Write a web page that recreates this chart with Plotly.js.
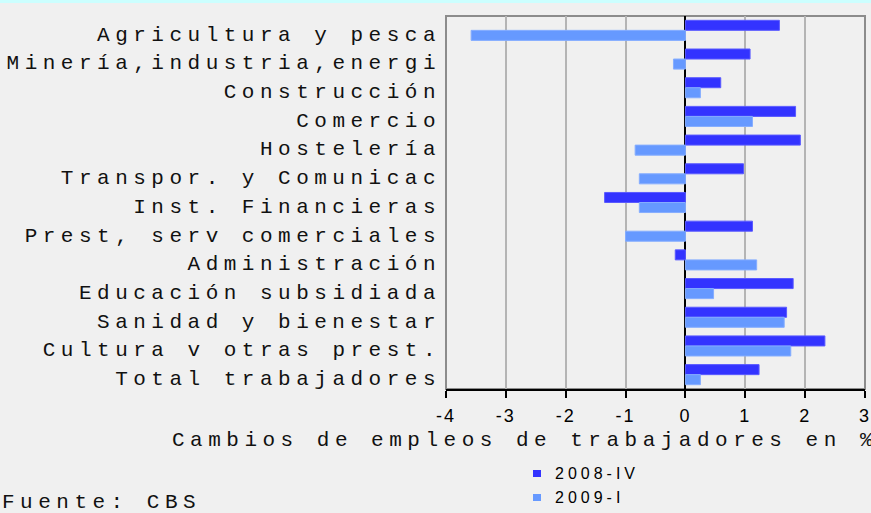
<!DOCTYPE html>
<html>
<head>
<meta charset="utf-8">
<script src="https://cdn.plot.ly/plotly-3.0.1.min.js"></script>
<style>
html,body{margin:0;padding:0;background:#f0f0f0;}
#chart{width:871px;height:513px;}
.ytick text {letter-spacing:5.5px;}
.xtick text {letter-spacing:2px;}
</style>
</head>
<body>
<div id="chart"></div>
<script>
var categories = [
  "Agricultura y pesca",
  "Minería,industria,energi",
  "Construcción",
  "Comercio",
  "Hostelería",
  "Transpor. y Comunicac",
  "Inst. Financieras",
  "Prest, serv comerciales",
  "Administración",
  "Educación subsidiada",
  "Sanidad y bienestar",
  "Cultura v otras prest.",
  "Total trabajadores"
];
var seriesNames = ["2008-IV", "2009-I"];
var seriesColors = ["#3333ff", "#6699ff"];
var values2008IV = [1.57, 1.08, 0.59, 1.84, 1.92, 0.97, -1.35, 1.12, -0.17, 1.80, 1.69, 2.33, 1.23];
var values2009I  = [-3.58, -0.20, 0.25, 1.12, -0.84, -0.77, -0.77, -1.00, 1.19, 0.47, 1.65, 1.76, 0.25];
var xTicks = [-4, -3, -2, -1, 0, 1, 2, 3];
var xTitle = "Cambios de empleos de trabajadores en %";
var sourceText = "Fuente: CBS";

var mono = "Liberation Mono, Courier New, monospace";
var sans = "Liberation Sans, Arial, sans-serif";

var W = 871, H = 513, ML = 446, MR = 6, MT = 16, MB = 124;
var PW = W - ML - MR, PH = H - MT - MB;
function px(x){ return (x - ML) / PW; }
function py(y){ return (H - MB - y) / PH; }

var traces = [
  {type:"bar", orientation:"h", name:seriesNames[0], y:categories, x:values2008IV,
   marker:{color:seriesColors[0], line:{color:"#5a5aff", width:1}}},
  {type:"bar", orientation:"h", name:seriesNames[1], y:categories, x:values2009I,
   marker:{color:seriesColors[1], line:{color:"#85adff", width:1}}}
];

var shapes = [
  {type:"rect", xref:"paper", yref:"paper", x0:0, x1:1, y0:0, y1:1, line:{color:"#8c8c8c", width:2}, layer:"below"},
  {type:"rect", xref:"paper", yref:"paper", x0:-1.1, x1:1.1, y0:py(3), y1:py(-10), line:{width:0}, fillcolor:"#ccffff"}
];
var annotations = [
  {text:'<span style="letter-spacing:5.5px">' + xTitle + '</span>', xref:"paper", yref:"paper",
   x:px(170), y:py(440), xanchor:"left", yanchor:"middle",
   showarrow:false, font:{family:mono, size:21, color:"#111"}},
  {text:'<span style="letter-spacing:5.5px">' + sourceText + '</span>', xref:"paper", yref:"paper",
   x:px(0), y:py(502), xanchor:"left", yanchor:"middle",
   showarrow:false, font:{family:mono, size:21, color:"#111"}}
];
// manual legend (swatches + labels)
seriesNames.forEach(function(name, i){
  var cy = 473.5 + i * 24;
  shapes.push({type:"rect", xref:"paper", yref:"paper", x0:px(533), x1:px(541), y0:py(cy-3.5), y1:py(cy+3.5),
               line:{width:0}, fillcolor:seriesColors[i]});
  annotations.push({text:'<span style="letter-spacing:4px">' + name + '</span>', xref:"paper", yref:"paper",
                    x:px(553), y:py(cy), xanchor:"left", yanchor:"middle", showarrow:false,
                    font:{family:sans, size:16, color:"#000"}});
});

var layout = {
  width:W, height:H,
  paper_bgcolor:"#f0f0f0", plot_bgcolor:"#f0f0f0",
  margin:{l:ML, r:MR, t:MT, b:MB, pad:0},
  barmode:"group", bargap:0.3, bargroupgap:0,
  showlegend:false,
  xaxis:{range:[-4,3], tickvals:xTicks, ticktext:xTicks.map(String),
         showgrid:true, gridcolor:"#b4b4b4", gridwidth:2,
         zeroline:true, zerolinecolor:"#000", zerolinewidth:2,
         showline:true, linecolor:"#000", linewidth:2,
         ticks:"outside", ticklen:7, tickwidth:2, tickcolor:"#000",
         tickfont:{family:sans, size:18, color:"#000"}, ticklabelstandoff:2, ticklabeloverflow:"allow",
         fixedrange:true, automargin:false},
  yaxis:{autorange:"reversed", showgrid:false, zeroline:false, showline:false,
         ticks:"", tickfont:{family:mono, size:21, color:"#111"}, ticklabelshift:-3, ticklabelstandoff:4,
         automargin:false, fixedrange:true},
  shapes:shapes,
  annotations:annotations
};
Plotly.newPlot("chart", traces, layout, {displayModeBar:false, staticPlot:true});
</script>
</body>
</html>
